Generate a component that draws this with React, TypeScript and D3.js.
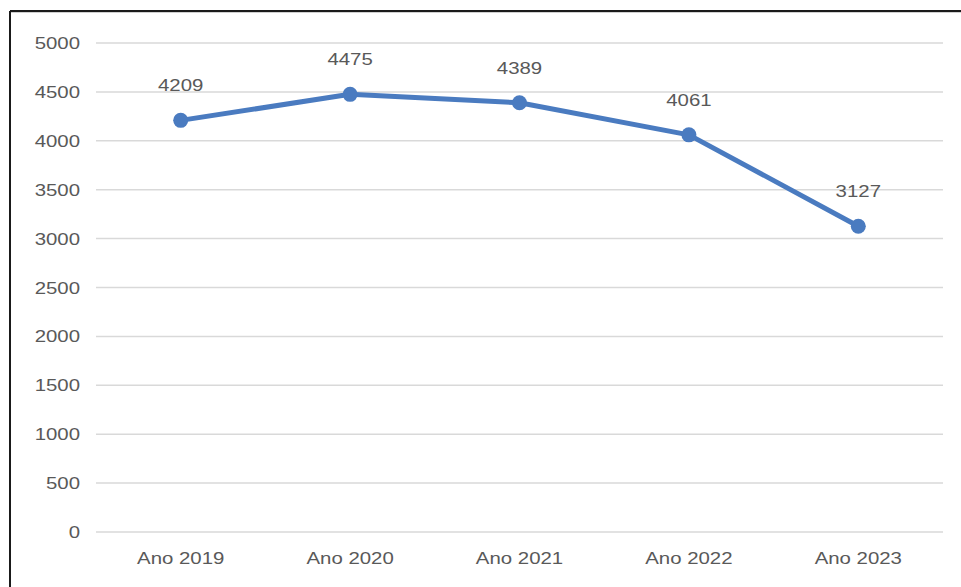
import React from "react";
import * as d3 from "d3";

const categories = ["Ano 2019", "Ano 2020", "Ano 2021", "Ano 2022", "Ano 2023"];
const values = [4209, 4475, 4389, 4061, 3127];
const yTicks = [0, 500, 1000, 1500, 2000, 2500, 3000, 3500, 4000, 4500, 5000];

const W = 961;
const H = 587;
const plotLeft = 96;
const plotRight = 943;
const plotTop = 43;
const plotBottom = 532;
const SX = 1.2;
const textColor = "#595959";
const lineColor = "#4a7bc0";

function SText(props: { x: number; y: number; anchor: string; children: React.ReactNode; size?: number }) {
  const { x, y, anchor, children, size = 17 } = props;
  return (
    <text
      transform={`translate(${x},${y}) scale(${SX},1)`}
      textAnchor={anchor}
      fontSize={size}
      fill={textColor}
      fontFamily="'Liberation Sans', Arial, sans-serif"
    >
      {children}
    </text>
  );
}

export default function App() {
  const x = d3.scaleBand<string>().domain(categories).range([plotLeft, plotRight]);
  const y = d3.scaleLinear().domain([0, 5000]).range([plotBottom, plotTop]);
  const cx = (c: string) => (x(c) ?? 0) + x.bandwidth() / 2;
  const line = d3
    .line<number>()
    .x((_, i) => cx(categories[i]))
    .y((d) => y(d));

  return (
    <svg
      width={W}
      height={H}
      style={{ position: "absolute", left: 0, top: 0, background: "#fff" }}
    >
      <rect x={0} y={0} width={W} height={H} fill="#fff" />
      <line x1={10} x2={W} y1={11} y2={11} stroke="#1a1a1a" strokeWidth={2} />
      <line x1={10} x2={W} y1={12.5} y2={12.5} stroke="#cfcfcf" strokeWidth={1} />
      <line x1={10} x2={10} y1={11} y2={H} stroke="#1a1a1a" strokeWidth={2} />
      {yTicks.map((t) => (
        <g key={t}>
          <line x1={plotLeft} x2={plotRight} y1={y(t)} y2={y(t)} stroke="#d9d9d9" strokeWidth={1.5} />
          <SText x={80} y={y(t) + 6} anchor="end">
            {t}
          </SText>
        </g>
      ))}
      {categories.map((c) => (
        <SText key={c} x={cx(c)} y={plotBottom + 32} anchor="middle">
          {c}
        </SText>
      ))}
      <path d={line(values) ?? ""} fill="none" stroke={lineColor} strokeWidth={5} strokeLinejoin="round" />
      {values.map((v, i) => (
        <circle key={i} cx={cx(categories[i])} cy={y(v)} r={7.5} fill={lineColor} />
      ))}
      {values.map((v, i) => (
        <SText key={"l" + i} x={cx(categories[i])} y={y(v) - 29} anchor="middle">
          {v}
        </SText>
      ))}
    </svg>
  );
}
